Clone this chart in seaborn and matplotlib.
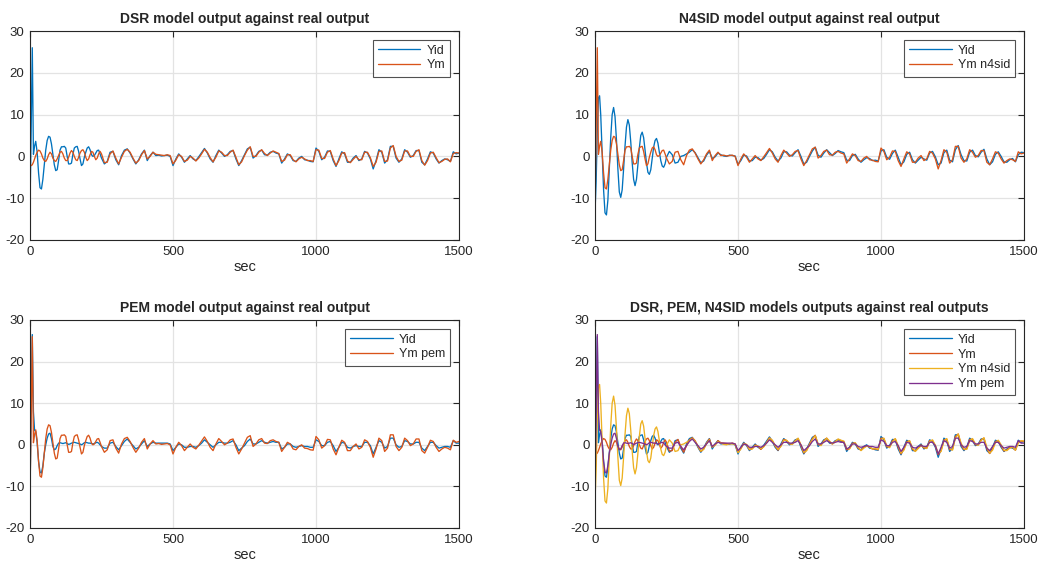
import numpy as np
import matplotlib
matplotlib.use("Agg")
import matplotlib.pyplot as plt
import seaborn as sns

# sample times (sec): dense at the start, every 10 s afterwards
t_early = [0, 4, 8, 12, 16, 20, 25, 30, 35, 40, 45, 50, 55, 60, 65, 70, 75, 80, 85, 90,
           95, 100, 105, 110, 115, 120, 125, 130, 135, 140, 145, 150, 155, 160, 165, 170,
           175, 180, 185, 190, 195, 200, 205, 210, 215, 220, 225, 230, 235, 240, 245, 250]
t_late = list(range(260, 1501, 10))

# real output (Yid)
yid_early = [-12, 6, 26, 0.5, 2.5, 3.6, 1.0, -4.0, -7.5, -7.8, -5.5, -2.0, 1.5, 3.8, 4.8, 4.6,
             3.0, 0.5, -2.0, -3.4, -3.2, -1.0, 1.5, 2.3, 2.3, 2.4, 2.0, 0.0, -1.8, -1.8, -1.6,
             0.5, 2.0, 2.3, 2.4, 1.2, -0.6, -2.2, -1.8, -0.2, 1.0, 2.0, 2.3, 1.6, 0.4, 0.0,
             0.2, 0.8, 1.4, 1.5, 0.6, -0.4]
yid_late = [-1.8, -1.2, 1.0, 1.2, -0.8, -2.0, 0.2, 1.5, 1.8, 0.8,
            -0.6, -1.8, -0.8, 0.6, 1.5, -1.0, 0.2, 1.0, 0.2, 0.3,
            0.1, 0.2, 0.3, 0.0, -2.2, -0.6, 0.6, -0.2, -1.4, -0.6,
            0.2, -0.6, -1.0, -0.1, 0.9, 1.9, 0.8, -0.6, -1.4, 0.2,
            1.5, 0.8, 0.0, 0.4, 1.2, 1.4, -0.6, -2.2, -1.0, 0.4,
            1.8, 2.2, -0.4, 0.2, 1.2, 1.5, 0.4, 0.3, 1.0, 1.2,
            0.8, 0.6, -1.6, -0.6, 0.6, 0.2, -1.0, -1.2, -0.4, 0.0,
            -0.8, -0.9, -1.2, -1.3, 2.0, 1.2, -0.8, -0.2, 1.3, 1.2,
            -1.0, -2.4, -0.6, 1.1, 0.6, -1.4, -1.4, -0.4, 0.2, -1.0,
            -0.6, 1.2, 0.8, -0.6, -3.0, -1.0, 1.6, 1.0, -1.6, -0.8,
            2.4, 2.4, -0.4, -1.4, -0.6, 1.6, 1.0, -0.2, 0.2, 1.4,
            1.4, -1.4, -2.0, -0.6, 1.1, 0.8, -0.6, -1.6, -1.0, -0.6,
            -0.8, -1.2, 1.1, 0.6, 0.8]

# DSR model output
ym_dsr_early = [-2.0, -2.2, -2.0, -1.4, -0.6, 0.2, 1.0, 1.5, 1.3, 0.6, -0.4, -1.0, -1.2, -0.6,
                0.4, 1.0, 0.6, -0.4, -1.0, -1.2, -0.6, 0.2, 1.0, 1.2, 0.6, -0.4, -1.0, -1.0,
                -0.2, 0.8, 1.4, 1.0, 0.0, -0.8, -1.0, -0.2, 0.8, 1.4, 1.6, 1.0, -0.2, -1.0,
                -0.6, 0.4, 1.2, 1.0, 0.0, -0.8, -0.4, 0.6, 1.2, 0.6]
ym_dsr_late = [-1.5, -1.4, 0.6, 1.3, -0.4, -1.8, -0.2, 1.2, 1.7, 1.0,
               -0.4, -1.6, -1.0, 0.4, 1.4, -0.6, 0.0, 1.0, 0.5, 0.4,
               0.3, 0.2, 0.4, 0.2, -1.8, -0.9, 0.4, 0.0, -1.2, -0.9,
               0.0, -0.4, -1.1, -0.4, 0.6, 1.7, 1.0, -0.3, -1.3, -0.2,
               1.3, 1.0, 0.2, 0.2, 1.0, 1.5, -0.2, -2.0, -1.3, 0.2,
               1.5, 2.3, 0.0, 0.0, 1.0, 1.6, 0.7, 0.2, 0.8, 1.3,
               1.0, 0.7, -1.2, -0.9, 0.4, 0.4, -0.8, -1.3, -0.6, -0.2,
               -0.6, -1.0, -1.0, -1.2, 1.6, 1.5, -0.5, -0.5, 1.0, 1.4,
               -0.6, -2.2, -1.0, 0.8, 0.9, -1.1, -1.5, -0.7, 0.0, -0.8,
               -0.8, 1.0, 1.0, -0.3, -2.4, -1.4, 1.2, 1.3, -1.2, -1.1,
               2.0, 2.6, 0.0, -1.2, -0.9, 1.3, 1.3, 0.0, 0.0, 1.2,
               1.6, -1.0, -2.1, -1.0, 0.8, 1.0, -0.3, -1.5, -1.2, -0.7,
               -0.6, -1.3, 0.7, 0.9, 0.8]

# N4SID model output
ym_n4sid_early = [-13.4, -6.0, 6.0, 14.0, 14.5, 10.0, 1.0, -8.0, -13.5, -14.0, -10.5, -3.0,
                  4.5, 10.0, 11.7, 9.5, 4.0, -3.0, -8.5, -9.8, -8.0, -3.0, 2.5, 7.0, 8.8,
                  7.5, 3.5, -1.5, -5.5, -7.0, -5.5, -2.0, 2.0, 5.0, 5.8, 4.5, 1.5, -1.5,
                  -3.8, -4.3, -3.2, -0.5, 2.2, 3.8, 4.3, 3.2, 1.0, -1.0, -2.3, -2.6, -1.8, -0.2]
ym_n4sid_late = [1.2, 0.4, -1.6, -1.4, 0.0, 0.2, 0.6, 1.0, 1.6, 0.9,
                 -0.3, -1.5, -1.1, 0.3, 1.2, -0.5, -0.1, 0.8, 0.4, 0.1,
                 0.0, 0.3, 0.2, 0.1, -1.9, -1.0, 0.3, 0.1, -1.1, -1.0,
                 -0.2, -0.3, -0.9, -0.5, 0.5, 1.6, 1.1, -0.2, -1.1, -0.4,
                 1.1, 1.1, 0.3, 0.1, 0.9, 1.6, 0.0, -1.8, -1.4, 0.0,
                 1.3, 2.2, 0.3, -0.2, 0.8, 1.6, 0.9, 0.2, 0.7, 1.4,
                 1.1, 0.9, -0.9, -1.0, 0.2, 0.5, -0.6, -1.4, -0.8, -0.3,
                 -0.5, -1.0, -0.9, -1.1, 1.3, 1.6, -0.2, -0.7, 0.7, 1.5,
                 -0.2, -2.0, -1.3, 0.5, 1.0, -0.8, -1.6, -0.9, -0.2, -0.6,
                 -0.9, 0.8, 1.2, -0.1, -2.0, -1.6, 0.9, 1.5, -0.9, -1.3,
                 1.6, 2.6, 0.4, -1.0, -1.1, 1.0, 1.5, 0.2, -0.1, 1.0,
                 1.7, -0.6, -2.0, -1.3, 0.5, 1.1, 0.0, -1.3, -1.4, -0.8,
                 -0.5, -1.3, 0.4, 1.0, 0.9]

# PEM model output
ym_pem_early = [-11.6, 8.0, 26.5, 8.0, 3.5, 3.2, 0.5, -4.0, -6.5, -6.8, -5.0, -2.0, 0.0, 1.6,
                2.6, 2.8, 1.5, -0.4, -1.2, -1.0, -0.2, 0.4, 0.5, 0.4, 0.3, 0.4, 0.5, 0.3,
                0.1, 0.2, 0.4, 0.5, 0.6, 0.5, 0.4, 0.3, 0.2, 0.0, 0.2, 0.5, 0.6, 0.5, 0.4,
                0.4, 0.3, 0.2, 0.3, 0.5, 0.6, 0.4, 0.0, -0.4]
ym_pem_late = [-0.8, -0.8, 0.4, 0.6, -0.4, -1.2, -0.2, 0.8, 1.4, 0.6,
               -0.2, -1.0, -0.6, 0.2, 1.0, -0.4, 0.2, 0.6, 0.4, 0.4,
               0.4, 0.4, 0.4, 0.2, -1.4, -0.6, 0.2, 0.0, -0.6, -0.6,
               -0.4, -0.4, -0.6, -0.2, 0.4, 1.2, 0.6, 0.0, -0.6, 0.0,
               0.6, 0.6, 0.4, 0.4, 0.6, 1.0, 0.0, -1.4, -0.8, -0.2,
               0.8, 1.4, 0.2, 0.2, 0.6, 1.0, 0.6, 0.4, 0.6, 0.8,
               0.6, 0.6, -1.0, -0.6, 0.2, 0.2, -0.4, -0.6, -0.4, -0.2,
               -0.4, -0.4, -0.6, -0.6, 1.2, 0.8, -0.2, -0.2, 0.6, 0.8,
               -0.2, -1.6, -0.6, 0.6, 0.4, -0.6, -0.8, -0.4, -0.2, -0.4,
               -0.4, 0.6, 0.6, -0.2, -2.2, -0.6, 1.0, 0.6, -0.8, -0.4,
               1.6, 1.6, 0.0, -0.6, -0.4, 1.0, 0.8, 0.2, 0.2, 0.6,
               0.6, -0.8, -1.4, -0.4, 0.6, 0.6, -0.2, -0.8, -0.6, -0.4,
               -0.4, -0.6, 1.0, 0.4, 0.4]

t = t_early + t_late
yid = yid_early + yid_late
ym_dsr = ym_dsr_early + ym_dsr_late
ym_n4sid = ym_n4sid_early + ym_n4sid_late
ym_pem = ym_pem_early + ym_pem_late

titles = ["DSR model output against real output",
          "N4SID model output against real output",
          "PEM model output against real output",
          "DSR, PEM, N4SID models outputs against real outputs"]
x_ticks = [0, 500, 1000, 1500]
y_ticks = [-20, -10, 0, 10, 20, 30]

BLUE, RED, YELLOW, PURPLE = "#0072BD", "#D95319", "#EDB120", "#7E2F8E"

sns.set_style("white")
plt.rcParams["font.family"] = ["Liberation Sans", "DejaVu Sans"]
plt.rcParams["axes.unicode_minus"] = False

fig = plt.figure(figsize=(10.42, 5.65), dpi=100)
W, H = 1042, 565
boxes = [(30, 31, 459, 240), (595, 31, 1024, 240),
         (30, 320, 459, 528), (595, 320, 1024, 528)]
axes = [fig.add_axes([l / W, 1 - b / H, (r - l) / W, (b - tp) / H]) for l, tp, r, b in boxes]

# which series each panel shows (as drawn in the reference)
panels = [
    [(yid, BLUE, "Yid"), (ym_dsr, RED, "Ym")],
    [(ym_n4sid, BLUE, "Yid"), (yid, RED, "Ym n4sid")],
    [(ym_pem, BLUE, "Yid"), (yid, RED, "Ym pem")],
    [(yid, BLUE, "Yid"), (ym_dsr, RED, "Ym"), (ym_n4sid, YELLOW, "Ym n4sid"),
     (ym_pem, PURPLE, "Ym pem")],
]

for ax, title, lines in zip(axes, titles, panels):
    for y, c, lab in lines:
        sns.lineplot(x=t, y=y, ax=ax, color=c, lw=0.95, label=lab)
    ax.set_xlim(0, 1500)
    ax.set_ylim(-20, 30)
    ax.set_xticks(x_ticks)
    ax.set_yticks(y_ticks)
    ax.grid(True, color="#e3e3e3", lw=0.9)
    ax.set_axisbelow(True)
    for s in ax.spines.values():
        s.set_color("#262626")
        s.set_linewidth(0.8)
    ax.tick_params(direction="in", length=4, width=0.8, top=True, right=True,
                   labelsize=9.5, colors="#262626", pad=4)
    ax.set_title(title, fontsize=10, fontweight="bold", pad=6)
    ax.set_xlabel("sec", fontsize=10.5, labelpad=2)
    ax.set_ylabel("")
    leg = ax.legend(loc="upper right", fontsize=9, frameon=True, fancybox=False,
                    borderaxespad=0.7, handlelength=3.4, handletextpad=0.5,
                    borderpad=0.4, labelspacing=0.22)
    leg.get_frame().set_edgecolor("#262626")
    leg.get_frame().set_linewidth(0.8)

fig.savefig("out.png", dpi=100)
